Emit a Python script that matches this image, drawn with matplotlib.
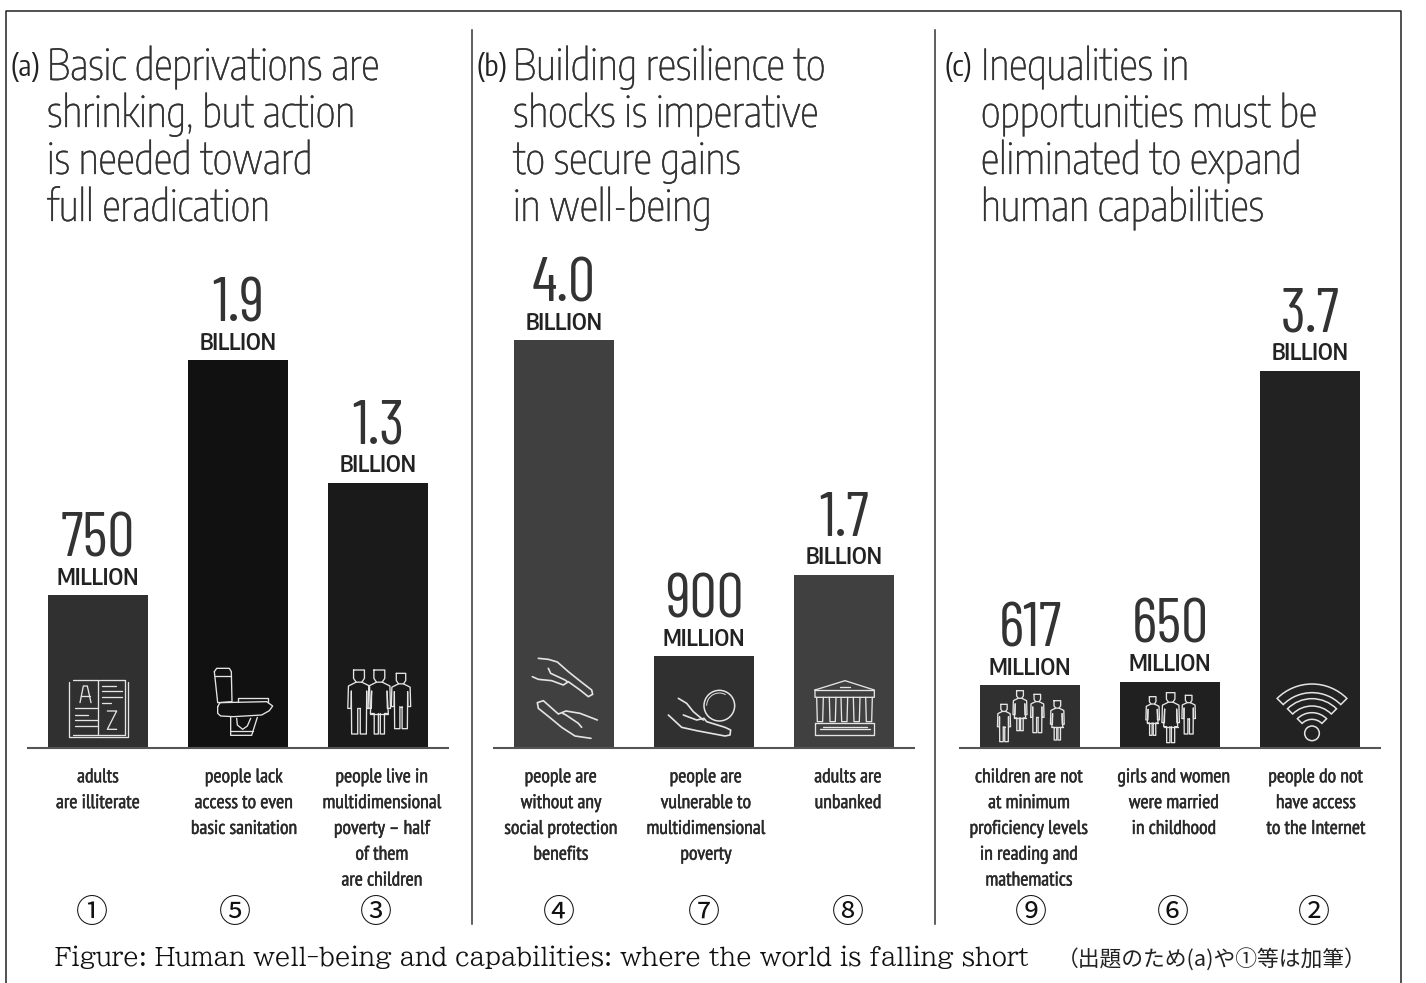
import matplotlib
matplotlib.use('Agg')
import matplotlib.pyplot as plt
import matplotlib.patches as patches
import matplotlib.patheffects as pe
from matplotlib.lines import Line2D

W, H = 1426, 983
HEAD = ['Encode Sans Condensed', 'Roboto', 'DejaVu Sans']
DIGITS = ['Barlow Condensed', 'Roboto', 'DejaVu Sans']
BODY = ['PT Sans Narrow', 'Roboto', 'DejaVu Sans']
SERIF = ['BIZ UDPMincho', 'DejaVu Serif']
JP = ['Noto Sans CJK JP', 'DejaVu Sans']

# values in millions of people
values_a = [750, 1900, 1300]
values_b = [4000, 900, 1700]
values_c = [617, 650, 3700]

numbers_a = ['750', '1.9', '1.3']
numbers_b = ['4.0', '900', '1.7']
numbers_c = ['617', '650', '3.7']

units_a = ['MILLION', 'BILLION', 'BILLION']
units_b = ['BILLION', 'MILLION', 'BILLION']
units_c = ['MILLION', 'MILLION', 'BILLION']

colors_a = ['#303030', '#111111', '#1a1a1a']
colors_b = ['#404040', '#303030', '#404040']
colors_c = ['#303030', '#202020', '#222222']

labels_a = ['adults\nare illiterate', 'people lack\naccess to even\nbasic sanitation',
            'people live in\nmultidimensional\npoverty – half\nof them\nare children']
labels_b = ['people are\nwithout any\nsocial protection\nbenefits',
            'people are\nvulnerable to\nmultidimensional\npoverty', 'adults are\nunbanked']
labels_c = ['children are not\nat minimum\nproficiency levels\nin reading and\nmathematics',
            'girls and women\nwere married\nin childhood', 'people do not\nhave access\nto the Internet']

marks_a = ['①', '⑤', '③']
marks_b = ['④', '⑦', '⑧']
marks_c = ['⑨', '⑥', '②']

titles_a = ['Basic deprivations are', 'shrinking, but action', 'is needed toward', 'full eradication']
titles_b = ['Building resilience to', 'shocks is imperative', 'to secure gains', 'in well-being']
titles_c = ['Inequalities in', 'opportunities must be', 'eliminated to expand', 'human capabilities']

fig = plt.figure(figsize=(W / 100, H / 100), dpi=100, facecolor='white')


def panel(left, values, colors, numbers, units, ymax):
    # axes are 420 px wide and 488 px tall, sitting on the baseline at y=748
    ax = fig.add_axes([left / W, 1 - 748 / H, 420 / W, 488 / H])
    ax.bar(range(3), values, width=0.72, color=colors)
    ax.set_xlim(-0.5, 2.5)
    ax.set_ylim(0, ymax)
    ax.patch.set_alpha(0)
    for s in ['top', 'left', 'right']:
        ax.spines[s].set_visible(False)
    ax.spines['bottom'].set_color('#555555')
    ax.spines['bottom'].set_linewidth(1.5)
    ax.set_xticks([])
    ax.set_yticks([])
    for i in range(3):
        ax.annotate(units[i], (i, values[i]), xytext=(0, 7.5), textcoords='offset points',
                    ha='center', va='baseline', family=HEAD, weight=600, fontsize=16.5,
                    color='#222222', annotation_clip=False)
        ax.annotate(numbers[i], (i, values[i]), xytext=(0, 28), textcoords='offset points',
                    ha='center', va='baseline', family=DIGITS, weight=400, fontsize=44,
                    color='#333333', annotation_clip=False)
    return ax


panel(28, values_a, colors_a, numbers_a, units_a, 2392)
panel(494, values_b, colors_b, numbers_b, units_b, 4784)
panel(960, values_c, colors_c, numbers_c, units_c, 4784)

# everything else is placed in pixels on a full-figure overlay
ov = fig.add_axes([0, 0, 1, 1], zorder=5)
ov.set_xlim(0, W)
ov.set_ylim(H, 0)
ov.axis('off')
ov.patch.set_alpha(0)


def rule(xs, ys, color='#222222', lw=1.1):
    ov.add_line(Line2D(xs, ys, color=color, lw=lw))


rule([5.5, 5.5, 1400.5, 1400.5], [983, 11, 11, 983])
rule([472, 472], [30, 924], '#333333')
rule([935, 935], [30, 924], '#333333')


def title(letter, lx, tx, lines):
    ov.text(lx, 76, letter, family=HEAD, fontsize=21, color='#222222', va='baseline')
    for i, line in enumerate(lines):
        ov.text(tx, 80 + 47 * i, line, family=HEAD, weight='light', fontsize=30.6,
                color='#333333', va='baseline',
                path_effects=[pe.withStroke(linewidth=0.25, foreground='#333333')])


title('(a)', 11, 47, titles_a)
title('(b)', 476, 513, titles_b)
title('(c)', 944, 981, titles_c)


def captions(centers, labels):
    for cx, lab in zip(centers, labels):
        for i, line in enumerate(lab.split('\n')):
            ov.text(cx, 782.3 + 25.8 * i, line, family=BODY, fontsize=14.2, color='#2a2a2a',
                    ha='center', va='baseline',
                    path_effects=[pe.withStroke(linewidth=0.35, foreground='#2a2a2a')])


captions([98, 244, 382], labels_a)
captions([561, 706, 848], labels_b)
captions([1029, 1174, 1316], labels_c)


def circled(centers, marks):
    for cx, m in zip(centers, marks):
        ov.text(cx, 913, m, family=JP, fontsize=23, color='#111111', ha='center', va='center')


circled([92, 235, 376], marks_a)
circled([559, 704, 848], marks_b)
circled([1031, 1173, 1314], marks_c)

ov.text(55, 966, 'Figure: Human well-being and capabilities: where the world is falling short',
        family=SERIF, fontsize=17.8, color='#111111', va='baseline')
ov.text(1057, 966, '（出題のため(a)や①等は加筆）', family=JP, fontsize=15.7, color='#222222', va='baseline')

# icons, sketched on a grid three times finer than a pixel
ICON = '#e4e4e4'


def stroke(pts, ox, oy, closed=False, lw=0.95):
    xs = [ox + p[0] / 3 for p in pts]
    ys = [oy + p[1] / 3 for p in pts]
    if closed:
        xs.append(xs[0])
        ys.append(ys[0])
    ln = Line2D(xs, ys, color=ICON, lw=lw, solid_joinstyle='round', solid_capstyle='round')
    ov.add_line(ln)


# book
for shape in ([(208, 305), (208, 472), (383, 472), (383, 305)],
              [(218, 300), (295, 300), (295, 465), (218, 465)],
              [(298, 300), (375, 300), (375, 465), (298, 465)]):
    stroke(shape, 0, 580)
stroke([(240, 368), (250, 318), (262, 318), (273, 368)], 0, 580)
stroke([(243, 348), (271, 348)], 0, 580)
stroke([(322, 393), (350, 393), (322, 448), (350, 448)], 0, 580)
for y, x0, x1 in [(385, 226, 290), (404, 226, 265), (421, 226, 290), (438, 226, 290),
                  (318, 305, 348), (334, 305, 366), (350, 305, 366), (368, 305, 332)]:
    stroke([(x0, y), (x1, y)], 0, 580)

# toilet
stroke([(643, 275), (650, 265), (688, 265), (694, 275), (696, 365), (653, 368), (643, 275)], 0, 580)
stroke([(645, 287), (694, 287)], 0, 580)
stroke([(653, 380), (660, 368), (800, 365), (818, 378), (808, 392), (785, 405), (700, 410),
        (662, 408), (653, 400), (653, 380)], 0, 580)
stroke([(715, 365), (715, 355), (805, 355), (805, 365)], 0, 580)
stroke([(692, 410), (692, 466), (755, 466), (772, 412)], 0, 580)
stroke([(692, 453), (758, 453)], 0, 580)
stroke([(710, 415), (712, 435), (728, 448), (742, 438), (752, 415)], 0, 580)


def person(cx, top, foot, ox, oy, skirt=False):
    # outline of one figure, cx/top/foot on the fine grid
    h = foot - top

    def P(x, y):
        return (cx + x * h, top + y * h)

    stroke([P(-.085, 0), P(.085, 0), P(.085, .13), P(.045, .19), P(-.045, .19), P(-.085, .13)], ox, oy, True)
    for sgn in (-1, 1):
        stroke([P(sgn * .045, .19), P(sgn * .165, .25), P(sgn * .175, .6), P(sgn * .125, .6), P(sgn * .12, .33)], ox, oy)
        if skirt:
            stroke([P(sgn * .12, .33), P(sgn * .14, .68), P(sgn * .08, .68), P(sgn * .08, 1), P(sgn * .015, 1), P(sgn * .015, .68)], ox, oy)
        else:
            stroke([P(sgn * .12, .33), P(sgn * .115, 1), P(sgn * .02, 1), P(sgn * .02, .6)], ox, oy)
    if skirt:
        stroke([P(-.14, .68), P(.14, .68)], ox, oy)
    else:
        stroke([P(-.02, .6), P(.02, .6)], ox, oy)


person(1077, 270, 462, 0, 580)
person(1138, 270, 462, 0, 580, skirt=True)
person(1203, 280, 446, 0, 580)

person(192, 133, 245, 940, 660)
person(240, 92, 212, 940, 660, skirt=True)
person(292, 103, 218, 940, 660)
person(352, 122, 240, 940, 660, skirt=True)

person(638, 110, 226, 940, 660, skirt=True)
person(692, 98, 248, 940, 660, skirt=True)
person(746, 106, 222, 940, 660)

# open hands
stroke([(175, 55), (205, 58), (232, 66), (265, 95), (300, 123), (335, 150), (338, 163), (325, 170),
        (300, 150), (265, 125), (250, 135), (215, 122), (175, 118), (157, 110)], 480, 640, lw=1.2)
stroke([(205, 85), (212, 100), (255, 120), (262, 125)], 480, 640, lw=1.2)
stroke([(333, 295), (285, 288), (245, 262), (210, 233), (175, 205), (172, 188), (190, 182),
        (235, 222), (258, 213), (300, 220), (352, 240)], 480, 640, lw=1.2)
stroke([(305, 262), (295, 250), (258, 225), (248, 220)], 480, 640, lw=1.2)

# hand and coin
ov.add_patch(patches.Circle((480 + 718 / 3, 640 + 197 / 3), 46 / 3, fill=False, ec=ICON, lw=1.1))
ov.add_patch(patches.Arc((480 + 718 / 3, 640 + 197 / 3), 76 / 3, 76 / 3, theta1=180, theta2=300,
                         ec=ICON, lw=0.7))
stroke([(565, 225), (605, 262), (650, 272), (735, 288), (750, 285), (752, 270), (735, 262),
        (680, 245), (672, 235), (650, 240), (610, 225)], 480, 640, lw=1.2)
stroke([(595, 175), (620, 190), (640, 215), (670, 240)], 480, 640, lw=1.2)

# bank
stroke([(1005, 150), (1095, 122), (1183, 150), (1183, 172), (1005, 172)], 480, 640, True)
stroke([(1005, 150), (1183, 150)], 480, 640)
stroke([(1080, 142), (1110, 142)], 480, 640)
for c in [1020, 1058, 1093, 1130, 1167]:
    stroke([(c - 10, 172), (c - 8, 245), (c + 8, 245), (c + 10, 172)], 480, 640)
stroke([(1005, 250), (1183, 250), (1183, 286), (1005, 286)], 480, 640, True)
stroke([(1030, 260), (1160, 260)], 480, 640)
stroke([(1020, 268), (1170, 268)], 480, 640)

# wifi
wc = (940 + 1116 / 3, 660 + 220 / 3)
ov.add_patch(patches.Circle(wc, 22 / 3, fill=False, ec=ICON, lw=1.1))
for r_out, r_in in [(148, 122), (104, 82), (62, 42)]:
    ov.add_patch(patches.Wedge(wc, r_out / 3, 225, 315, width=(r_out - r_in) / 3,
                               fill=False, ec=ICON, lw=1.1))

fig.savefig('out.png', dpi=100)
